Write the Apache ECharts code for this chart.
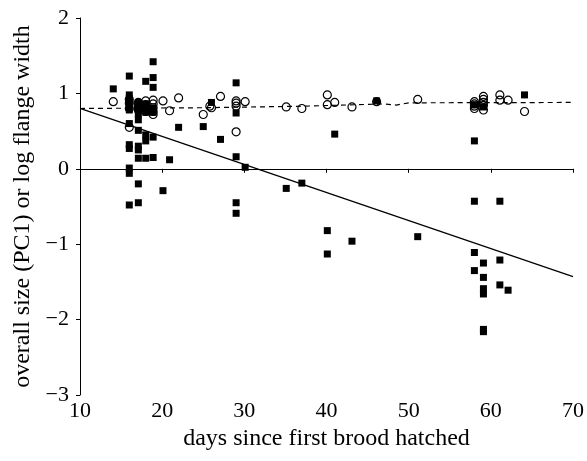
<!DOCTYPE html>
<html>
<head>
<meta charset="utf-8">
<script src="https://cdn.jsdelivr.net/npm/echarts@6/dist/echarts.min.js"></script>
<style>html,body{margin:0;padding:0;background:#fff}#c{width:587px;height:461px}</style>
</head>
<body>
<div id="c"></div>
<script>
// filled squares: overall size (PC1)
const squarePoints = [
  [14.05,1.06],[16,1.23],[16,0.98],[16,0.93],[16,0.88],[16,0.83],[16,0.78],[16,0.60],[16,0.32],[16,0.27],[16,0.01],[16,-0.06],[16,-0.48],
  [17.1,0.88],[17.1,0.83],[17.1,0.78],[17.1,0.73],[17.1,0.65],[17.1,0.51],[17.1,0.30],[17.1,0.25],[17.1,0.14],[17.1,-0.20],[17.1,-0.45],
  [18,1.16],[18,0.86],[18,0.80],[18,0.75],[18,0.45],[18,0.37],[18,0.14],
  [18.9,1.42],[18.9,1.21],[18.9,1.08],[18.9,0.80],[18.9,0.75],[18.9,0.42],[18.9,0.15],
  [20.1,-0.29],[20.9,0.12],[22,0.55],[25,0.56],[26,0.88],[27.1,0.39],
  [29,1.14],[29,0.74],[29,0.16],[29,-0.45],[29,-0.59],[30.1,0.02],
  [35.1,-0.26],[37,-0.19],[40.1,-0.82],[40.1,-1.13],[41,0.46],[43.1,-0.96],[46.1,0.90],[51.1,-0.90],
  [58,0.85],[58,0.37],[58,-0.43],[58,-1.11],[58,-1.35],
  [59.1,0.82],[59.1,-1.25],[59.1,-1.44],[59.1,-1.59],[59.1,-1.66],[59.1,-2.13],[59.1,-2.16],
  [61.1,-0.43],[61.1,-1.21],[61.1,-1.54],[62.1,-1.61],[64.1,0.98]
];
// open circles: log flange width
const circlePoints = [
  [14.05,0.89],[16,0.92],[16,0.87],[16,0.80],[16,0.55],
  [17.1,0.88],[17.1,0.83],[17.1,0.78],
  [18,0.90],[18,0.85],[18,0.80],[18,0.76],
  [18.9,0.91],[18.9,0.86],[18.9,0.81],[18.9,0.76],[18.9,0.72],
  [20.1,0.90],[20.9,0.77],[22,0.94],[25,0.72],[25.8,0.83],[26,0.81],[27.1,0.96],
  [29,0.90],[29,0.87],[29,0.83],[29,0.49],[30.1,0.89],
  [35.1,0.82],[37,0.80],[40.1,0.98],[40.1,0.85],[41,0.88],[43.1,0.82],[46.1,0.89],[51.1,0.92],
  [58,0.89],[58,0.86],[58,0.83],[58,0.80],
  [59.1,0.96],[59.1,0.92],[59.1,0.88],[59.1,0.84],[59.1,0.78],
  [61.1,0.98],[61.1,0.91],[62.1,0.91],[64.1,0.76]
];
const sizeFit = [[10,0.80],[70,-1.43]];
const flangeFit = [[10,0.80],[25,0.81],[37,0.83],[47,0.86],[48.5,0.845],[50,0.875],[70,0.88]];
const xTicks = [10,20,30,40,50,60,70];
const yTicks = [-3,-2,-1,0,1,2];

const font = '"Liberation Serif","DejaVu Serif",serif';
const chart = echarts.init(document.getElementById('c'));
chart.setOption({
  animation: false,
  backgroundColor: '#fff',
  grid: {left: 80, right: 14, top: 18, bottom: 66},
  xAxis: {
    type: 'value', min: xTicks[0], max: xTicks[xTicks.length-1], interval: 10,
    name: 'days since first brood hatched', nameLocation: 'middle', nameGap: 30,
    nameTextStyle: {fontFamily: font, fontSize: 24, color: '#000'},
    axisLine: {lineStyle: {color: '#000', width: 1}},
    axisTick: {show: true, length: 4, lineStyle: {color: '#000'}},
    axisLabel: {fontFamily: font, fontSize: 22, color: '#000', margin: 5},
    splitLine: {show: false}
  },
  yAxis: {
    type: 'value', min: yTicks[0], max: yTicks[yTicks.length-1], interval: 1,
    name: 'overall size (PC1) or log flange width', nameLocation: 'middle', nameGap: 43,
    nameTextStyle: {fontFamily: font, fontSize: 24, color: '#000'},
    axisLine: {show: true, lineStyle: {color: '#000', width: 1}},
    axisTick: {show: true, length: 4, lineStyle: {color: '#000'}},
    axisLabel: {fontFamily: font, fontSize: 22, color: '#000', margin: 11,
      formatter: v => String(v).replace('-', '\u2212')},
    splitLine: {show: false}
  },
  series: [
    {type: 'line', data: sizeFit, symbol: 'none', lineStyle: {color: '#000', width: 1.3}, z: 1},
    {type: 'line', data: flangeFit, symbol: 'none', lineStyle: {color: '#000', width: 1.2, type: [5, 4]}, z: 1},
    {type: 'scatter', data: squarePoints, symbol: 'rect', symbolSize: 7, itemStyle: {color: '#000', opacity: 1}, z: 2},
    {type: 'scatter', data: circlePoints, symbol: 'circle', symbolSize: 8,
      itemStyle: {color: 'rgba(0,0,0,0)', borderColor: '#000', borderWidth: 1.2, opacity: 1}, z: 3}
  ]
});
</script>
</body>
</html>
